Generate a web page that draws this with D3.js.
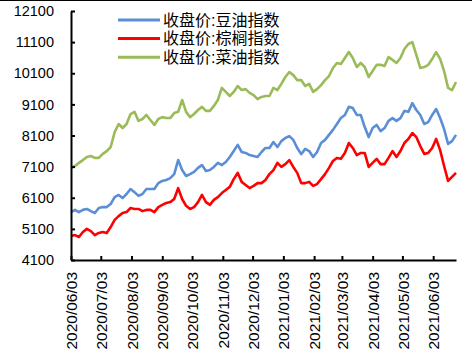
<!DOCTYPE html>
<html lang="zh">
<head>
<meta charset="UTF-8">
<title>收盘价</title>
<script src="https://d3js.org/d3.v7.min.js"></script>
<style>
  body { margin: 0; background: #fff; }
  .tick text { font-family: "Liberation Sans", Arial, sans-serif; font-size: 14.5px; fill: #000; }
  .x-axis .tick text { font-size: 15.5px; }
  .legend text { font-family: "Liberation Sans", "Noto Sans CJK SC", sans-serif; font-size: 16px; fill: #000; }
</style>
</head>
<body>
<script>
var w = 472;
var h = 355;

// dates of the sampled closes (every 4 days)
var dates = [
  "2020/06/03","2020/06/07","2020/06/11","2020/06/15","2020/06/19","2020/06/23","2020/06/27",
  "2020/07/01","2020/07/05","2020/07/09","2020/07/13","2020/07/17","2020/07/21","2020/07/25","2020/07/29",
  "2020/08/02","2020/08/06","2020/08/10","2020/08/14","2020/08/18","2020/08/22","2020/08/26","2020/08/30",
  "2020/09/03","2020/09/07","2020/09/11","2020/09/15","2020/09/19","2020/09/23","2020/09/27",
  "2020/10/01","2020/10/05","2020/10/09","2020/10/13","2020/10/17","2020/10/21","2020/10/25","2020/10/29",
  "2020/11/02","2020/11/06","2020/11/10","2020/11/14","2020/11/18","2020/11/22","2020/11/26","2020/11/30",
  "2020/12/04","2020/12/08","2020/12/12","2020/12/16","2020/12/20","2020/12/24","2020/12/28",
  "2021/01/01","2021/01/05","2021/01/09","2021/01/13","2021/01/17","2021/01/21","2021/01/25","2021/01/29",
  "2021/02/02","2021/02/06","2021/02/10","2021/02/14","2021/02/18","2021/02/22","2021/02/26",
  "2021/03/02","2021/03/06","2021/03/10","2021/03/14","2021/03/18","2021/03/22","2021/03/26","2021/03/30",
  "2021/04/03","2021/04/07","2021/04/11","2021/04/15","2021/04/19","2021/04/23","2021/04/27",
  "2021/05/01","2021/05/05","2021/05/09","2021/05/13","2021/05/17","2021/05/21","2021/05/25","2021/05/29",
  "2021/06/02","2021/06/06","2021/06/10","2021/06/14","2021/06/18","2021/06/22","2021/06/26"
];

// 收盘价:豆油指数
var soyOil = [
  5640,5710,5640,5710,5740,5670,5610,5770,5800,5800,5900,6120,6190,6090,6220,
  6380,6280,6160,6220,6380,6380,6380,6570,6640,6670,6730,6860,7310,6990,6800,
  6860,6930,7060,7150,6960,6990,7090,7220,7150,7250,7410,7600,7800,7570,7540,7470,
  7440,7410,7570,7700,7700,7890,7730,7920,8020,8080,7960,7700,7500,7670,7600,
  7410,7570,7860,7960,8120,8280,8470,8660,8760,9020,8980,8760,8760,8370,8050,
  8340,8440,8240,8340,8570,8660,8570,8660,8890,8860,9140,8920,8760,8470,8530,
  8760,8950,8660,8310,7830,7920,8120
];

// 收盘价:棕榈指数
var palmOil = [
  4870,4900,4840,5000,5100,5030,4900,4970,5000,4970,5160,5390,5510,5610,5640,
  5770,5740,5740,5670,5710,5710,5640,5800,5870,5930,5960,6060,6410,6060,5840,
  5740,5800,5960,6190,5960,5870,6030,6120,6250,6350,6450,6700,6900,6610,6510,6410,
  6480,6570,6570,6670,6860,6990,7220,7090,7180,7310,7090,6900,6570,6570,6610,
  6480,6540,6700,6860,7060,7280,7380,7350,7540,7860,7700,7470,7540,7540,7090,
  7220,7350,7180,7180,7380,7600,7410,7600,7860,7990,8180,8050,7760,7510,7540,
  7700,7990,7630,7120,6640,6770,6900
];

// 收盘价:菜油指数
var rapeOil = [
  7060,7120,7220,7310,7410,7440,7380,7380,7510,7600,7730,8210,8470,8340,8470,
  8790,8860,8570,8630,8760,8600,8440,8630,8690,8660,8660,8820,8860,9240,8860,
  8690,8790,8920,9020,8890,8890,9050,9240,9630,9500,9370,9500,9690,9560,9590,9470,
  9400,9270,9340,9370,9370,9630,9560,9760,9980,10140,10040,9880,9880,9690,9760,
  9500,9590,9720,9880,10010,10270,10430,10400,10590,10780,10590,10300,10430,10300,9980,
  10170,10370,10370,10330,10620,10530,10430,10590,10880,11040,11100,10690,10270,10300,10370,
  10560,10780,10560,10170,9630,9560,9820
];

var seriesNames = ["收盘价:豆油指数", "收盘价:棕榈指数", "收盘价:菜油指数"];
var seriesColors = ["#5B8ED6", "#FF0000", "#9BBB59"];
var yTicks = [4100, 5100, 6100, 7100, 8100, 9100, 10100, 11100, 12100];
var xTickLabels = [
  "2020/06/03","2020/07/03","2020/08/03","2020/09/03","2020/10/03","2020/11/03","2020/12/03",
  "2021/01/03","2021/02/03","2021/03/03","2021/04/03","2021/05/03","2021/06/03"
];

var parse = d3.timeParse("%Y/%m/%d");
var fmt = d3.timeFormat("%Y/%m/%d");

var plotLeft = 71, plotRight = 456, plotTop = 11, plotBottom = 260;

var xScale = d3.scaleTime()
    .domain([parse("2020/06/03"), parse("2021/06/26")])
    .range([plotLeft, plotRight]);

var yScale = d3.scaleLinear()
    .domain([4100, 12100])
    .range([plotBottom, plotTop]);

var svg = d3.select("body")
    .append("svg")
    .attr("width", w)
    .attr("height", h);

// top frame line
svg.append("line")
    .attr("x1", 0).attr("x2", w)
    .attr("y1", 0.5).attr("y2", 0.5)
    .attr("stroke", "#000");

var table = [soyOil, palmOil, rapeOil].map(function (vals, i) {
    return {
        name: seriesNames[i],
        color: seriesColors[i],
        points: vals.map(function (v, j) { return [parse(dates[j]), v]; })
    };
});

var line = d3.line()
    .x(function (d) { return xScale(d[0]); })
    .y(function (d) { return yScale(d[1]); });

svg.selectAll("path.series")
    .data(table)
    .enter()
    .append("path")
    .attr("class", "series")
    .attr("fill", "none")
    .attr("stroke", function (d) { return d.color; })
    .attr("stroke-width", 2.6)
    .attr("stroke-linejoin", "round")
    .attr("d", function (d) { return line(d.points); });

// y axis
var yAxis = d3.axisLeft(yScale)
    .tickValues(yTicks)
    .tickSizeInner(-4)
    .tickSizeOuter(0)
    .tickPadding(17)
    .tickFormat(d3.format("d"));

var gy = svg.append("g")
    .attr("class", "y-axis")
    .attr("transform", "translate(" + plotLeft + ",0)")
    .call(yAxis);

// x axis
var xAxis = d3.axisBottom(xScale)
    .tickValues(xTickLabels.map(parse))
    .tickSizeInner(-4)
    .tickSizeOuter(0)
    .tickFormat(fmt);

var gx = svg.append("g")
    .attr("class", "x-axis")
    .attr("transform", "translate(0," + plotBottom + ")")
    .call(xAxis);

gx.selectAll("text")
    .attr("transform", "rotate(-90)")
    .attr("text-anchor", "end")
    .attr("x", -12)
    .attr("y", 0)
    .attr("dy", "0.36em");

[gx, gy].forEach(function (g) {
    g.select(".domain").attr("stroke", "#000").attr("stroke-width", 2);
    g.selectAll(".tick line").attr("stroke", "#000").attr("stroke-width", 2);
});

// legend
var legend = svg.append("g").attr("class", "legend");
var rows = legend.selectAll("g")
    .data(table)
    .enter()
    .append("g")
    .attr("transform", function (d, i) { return "translate(118," + (20 + i * 18.6) + ")"; });

rows.append("line")
    .attr("x1", 0).attr("x2", 42)
    .attr("stroke", function (d) { return d.color; })
    .attr("stroke-width", 3);

rows.append("text")
    .attr("x", 45)
    .attr("dy", "0.36em")
    .text(function (d) { return d.name; });
</script>
</body>
</html>
